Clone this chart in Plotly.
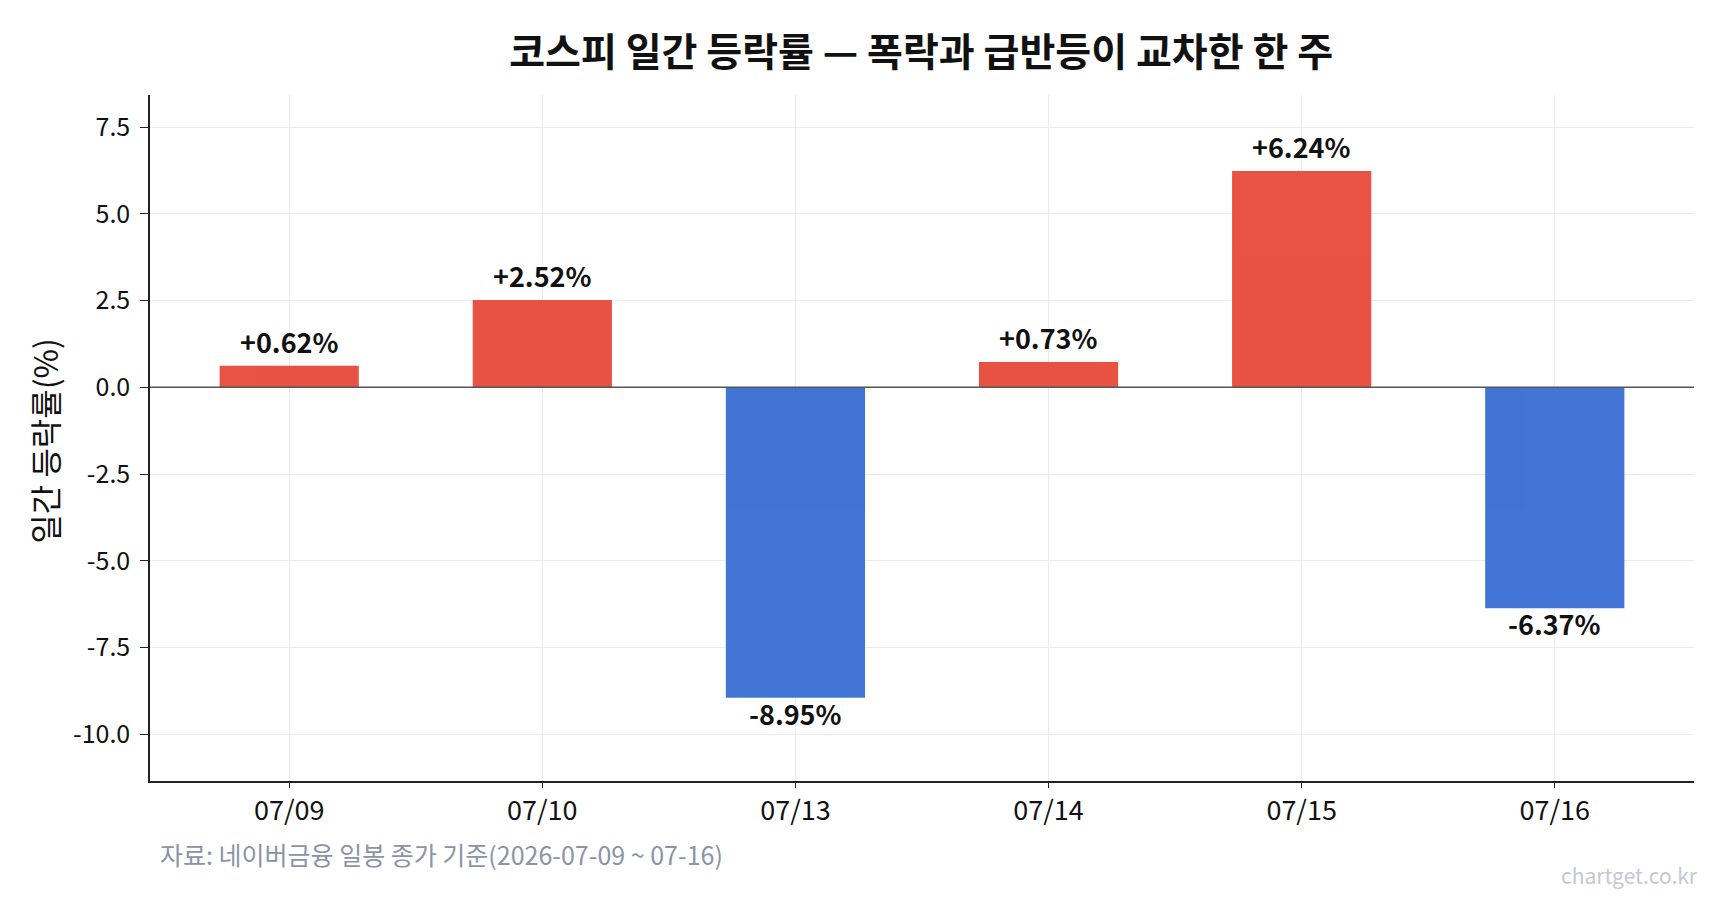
import plotly.graph_objects as go

dates = ["07/09", "07/10", "07/13", "07/14", "07/15", "07/16"]
changes = [0.62, 2.52, -8.95, 0.73, 6.24, -6.37]
y_ticks = [-10.0, -7.5, -5.0, -2.5, 0.0, 2.5, 5.0, 7.5]

RED = "#E74C3C"
BLUE = "#3A6FD4"
colors = [RED if v >= 0 else BLUE for v in changes]
labels = [f"{v:+.2f}%" for v in changes]

FONT = "Noto Sans CJK KR"

fig = go.Figure()
fig.add_trace(go.Bar(
    x=dates, y=changes, width=0.55,
    marker=dict(color=colors, line=dict(width=0)),
    opacity=0.96,
    hoverinfo="skip",
))

for d, v, lab in zip(dates, changes, labels):
    fig.add_annotation(
        x=d, y=v, text=f"<b>{lab}</b>", showarrow=False,
        yanchor="bottom" if v >= 0 else "top",
        yshift=3 if v >= 0 else 6,
        font=dict(family=FONT, size=27, color="#111111"),
    )

fig.add_hline(y=0, line=dict(color="#555555", width=1.5))

fig.update_layout(
    width=1725, height=900,
    margin=dict(l=150, r=31, t=95, b=119),
    plot_bgcolor="white", paper_bgcolor="white",
    showlegend=False,
    font=dict(family=FONT, color="#111111"),
    title=dict(text="<b>코스피 일간 등락률 — 폭락과 급반등이 교차한 한 주</b>",
               x=0.534, xanchor="center", y=0.942, yanchor="middle",
               font=dict(family=FONT, size=39, color="#111111")),
    xaxis=dict(range=[-0.55, 5.55], showgrid=True, gridcolor="#ebebeb", gridwidth=1,
               showline=True, linecolor="#222222", linewidth=1.5, mirror=False,
               ticks="outside", ticklen=5, tickcolor="#222222",
               ticklabelstandoff=0,
               tickfont=dict(family=FONT, size=27, color="#111111")),
    yaxis=dict(range=[-11.35, 8.43], tickvals=y_ticks,
               ticktext=[f"{v:.1f}" for v in y_ticks],
               showgrid=True, gridcolor="#ebebeb", gridwidth=1, zeroline=False,
               showline=True, linecolor="#222222", linewidth=1.5,
               ticks="outside", ticklen=8, tickcolor="#222222",
               ticklabelstandoff=5,
               tickfont=dict(family=FONT, size=25, color="#111111")),
    bargap=0.45,
)

fig.add_annotation(text="일간 등락률(%)", textangle=-90,
                   xref="paper", yref="paper", x=-0.0687, y=0.496,
                   xanchor="center", yanchor="middle", showarrow=False,
                   font=dict(family=FONT, size=32, color="#111111"))
fig.add_annotation(text="자료: 네이버금융 일봉 종가 기준(2026-07-09 ~ 07-16)",
                   xref="paper", yref="paper", x=0.005, y=-0.1064,
                   xanchor="left", yanchor="middle", showarrow=False,
                   font=dict(family=FONT, size=25, color="#8A94A6"))
fig.add_annotation(text="chartget.co.kr",
                   xref="paper", yref="paper", x=1.0039, y=-0.137,
                   xanchor="right", yanchor="middle", showarrow=False,
                   font=dict(family=FONT, size=21, color="#C3C9D3"))

fig.write_html("out.html")
